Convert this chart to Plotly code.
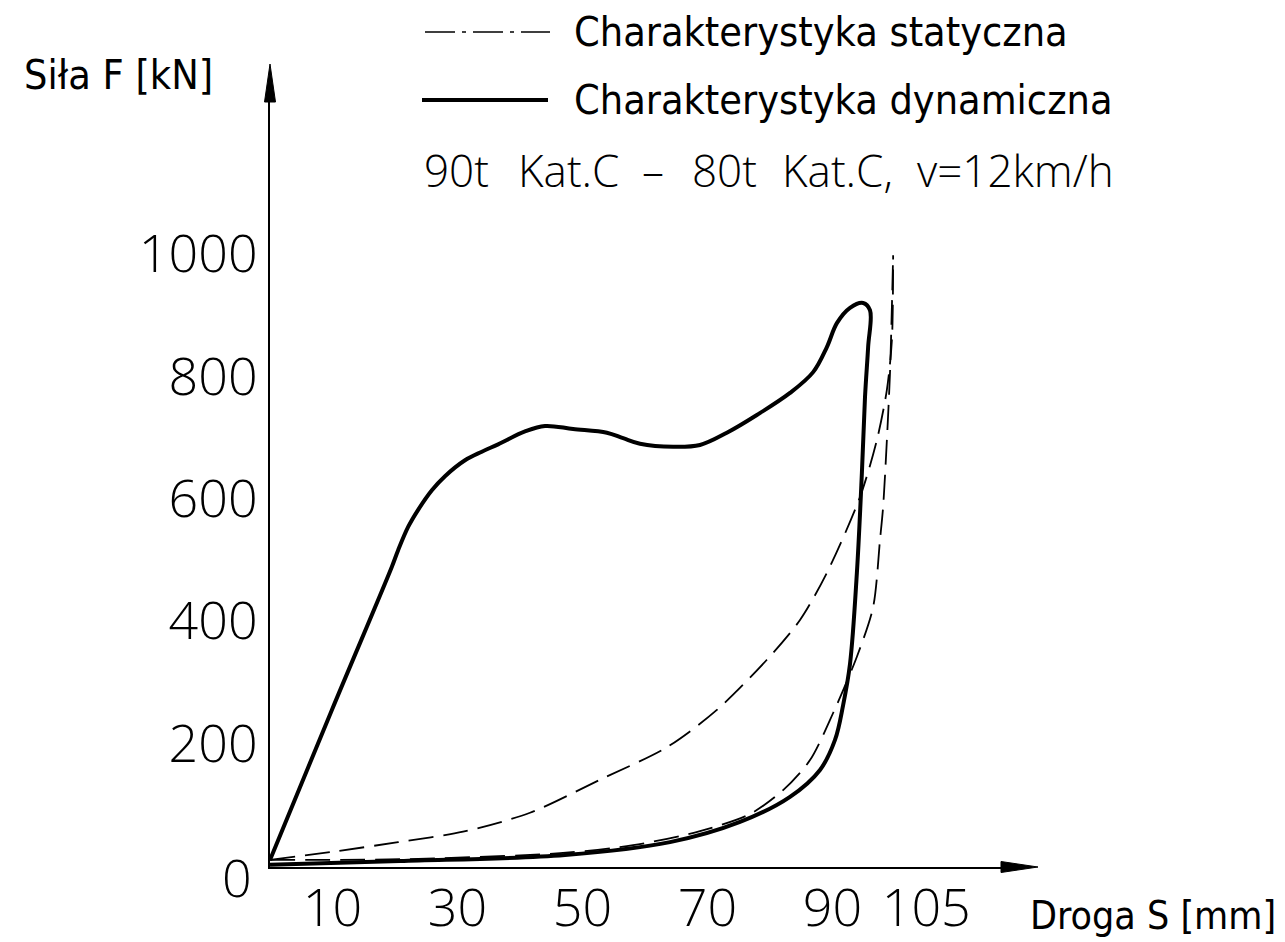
import plotly.graph_objects as go

# ---------------- data ----------------
# dynamic characteristic (closed loop): loading then unloading
dyn_s = [0, 9.9, 19.5, 20.5, 22.1, 23.7, 25.9, 28.0, 31.2, 33.9, 36.5, 40.8, 44.0, 48.5, 53.9,
         56.5, 59.2, 64.5, 68.8, 73.1, 77.9, 83.2, 86.9, 89.1, 90.7, 92.8, 94.9, 96.0,
         95.7, 95.2, 94.7, 93.9, 92.8, 91.7, 90.4, 88.0, 83.2, 75.2, 64.0, 47.2, 20.8, 0]
dyn_F = [10, 255, 489, 516, 554, 582, 614, 637, 663, 677, 689, 710, 719, 714, 708,
         699, 690, 685, 688, 708, 737, 773, 807, 848, 887, 912, 920, 908,
         848, 766, 642, 479, 330, 263, 206, 157, 113, 72, 39, 18, 8, 2]

# static characteristic - loading branch
stat_up_s = [0, 9.9, 20.5, 30.9, 41.6, 52.8, 63.5, 71.5, 79.5, 84.8, 89.1, 94.4, 97.1, 98.7, 99.5, 99.7]
stat_up_F = [10, 23, 39, 56, 87, 141, 194, 255, 337, 402, 479, 603, 696, 778, 859, 998]

# static characteristic - unloading branch
stat_dn_s = [0, 20.8, 46.4, 58.1, 68.8, 76.8, 82.1, 86.4, 90.1, 93.9, 96.5, 97.6, 98.1, 98.7, 99.2, 99.5, 99.7]
stat_dn_F = [10, 11, 21, 34, 57, 85, 124, 173, 250, 342, 423, 533, 587, 696, 806, 913, 998]

x_ticks = [10, 30, 50, 70, 90, 105]
x_tick_text = ["10", "30", "50", "70", "90", "105"]
y_ticks = [200, 400, 600, 800, 1000]
y_tick_text = ["200", "400", "600", "800", "1000"]

# subtitle pieces (text, left edge in px)
subtitle_parts = ["90t", "Kat.C", "\u2013", "80t", "Kat.C,", "v=12km/h"]
subtitle_left = [422, 516, 640, 690, 780, 915]

# ---------------- layout geometry ----------------
W_FIG, H_FIG = 1285, 942
L, R, T, B = 270, 1010, 90, 867
PX_PER_MM = 6.25
PX_PER_KN = 0.612
ZERO_PX = 866
x_range = [0, (R - L) / PX_PER_MM]
y_range = [(ZERO_PX - B) / PX_PER_KN, (ZERO_PX - T) / PX_PER_KN]


def px(xp):
    return (xp - L) / (R - L)


def py(yp):
    return (B - yp) / (B - T)


NUM_FONT = dict(family="Open Sans, DejaVu Sans, sans-serif", size=52, color="black", weight=300)
SUB_FONT = dict(family="Open Sans, DejaVu Sans, sans-serif", size=44, color="black", weight=300)
CAD_FONT = dict(family="Liberation Sans Narrow, DejaVu Sans Condensed, Liberation Sans, sans-serif",
                size=41, color="black")

fig = go.Figure()
fig.add_trace(go.Scatter(x=stat_up_s, y=stat_up_F, mode="lines", name="Charakterystyka statyczna",
                         line=dict(color="black", width=1.8, dash="25px,10px", shape="spline", smoothing=0.8),
                         showlegend=False))
fig.add_trace(go.Scatter(x=stat_dn_s, y=stat_dn_F, mode="lines", name="Charakterystyka statyczna",
                         line=dict(color="black", width=1.8, dash="25px,10px", shape="spline", smoothing=0.8),
                         showlegend=False))
fig.add_trace(go.Scatter(x=dyn_s, y=dyn_F, mode="lines", name="Charakterystyka dynamiczna",
                         line=dict(color="black", width=4, shape="spline", smoothing=1.0),
                         showlegend=False))

fig.update_layout(
    width=W_FIG, height=H_FIG,
    margin=dict(l=L, r=W_FIG - R, t=T, b=H_FIG - B, pad=0),
    paper_bgcolor="white", plot_bgcolor="white",
    xaxis=dict(range=x_range, showgrid=False, zeroline=False, showline=True, linecolor="black",
               linewidth=2, tickmode="array", tickvals=x_ticks, ticktext=x_tick_text, ticks="",
               tickfont=NUM_FONT, ticklabelstandoff=-5, automargin=False),
    yaxis=dict(range=y_range, showgrid=False, zeroline=False, showline=True, linecolor="black",
               linewidth=2, tickmode="array", tickvals=y_ticks, ticktext=y_tick_text, ticks="",
               tickfont=NUM_FONT, ticklabelstandoff=0, automargin=False),
)

shapes = [
    # axis arrowheads
    dict(type="path", xref="paper", yref="paper",
         path=f"M{px(270)},{py(64)} L{px(264.5)},{py(102)} L{px(275.5)},{py(102)} Z",
         fillcolor="black", line=dict(color="black", width=1)),
    dict(type="path", xref="paper", yref="paper",
         path=f"M{px(1038)},{py(867)} L{px(1001)},{py(861.5)} L{px(1001)},{py(872.5)} Z",
         fillcolor="black", line=dict(color="black", width=1)),
    # legend samples
    dict(type="line", xref="paper", yref="paper", x0=px(425), x1=px(550), y0=py(32), y1=py(32),
         line=dict(color="black", width=1.5, dash="30px,7px,4px,7px")),
    dict(type="line", xref="paper", yref="paper", x0=px(422), x1=px(548), y0=py(100), y1=py(100),
         line=dict(color="black", width=4)),
]
fig.update_layout(shapes=shapes)

annotations = [
    dict(text="Siła F [kN]", x=px(22), y=py(75), xanchor="left", yanchor="middle", font=CAD_FONT),
    dict(text="Droga S [mm]", x=px(1278), y=py(915), xanchor="right", yanchor="middle",
         font=dict(CAD_FONT, size=39)),
    dict(text="Charakterystyka statyczna", x=px(572), y=py(32), xanchor="left", yanchor="middle",
         font=CAD_FONT),
    dict(text="Charakterystyka dynamiczna", x=px(572), y=py(100), xanchor="left", yanchor="middle",
         font=CAD_FONT),
    dict(text="0", x=px(237), y=py(877), xanchor="center", yanchor="middle", font=NUM_FONT),
]
for txt, lx in zip(subtitle_parts, subtitle_left):
    annotations.append(dict(text=txt, x=px(lx), y=py(170), xanchor="left", yanchor="middle",
                            font=SUB_FONT))
for a in annotations:
    a.update(xref="paper", yref="paper", showarrow=False)
fig.update_layout(annotations=annotations)

fig.write_html("out.html", config={"displayModeBar": False},
               post_script="document.body.style.margin='0';")
